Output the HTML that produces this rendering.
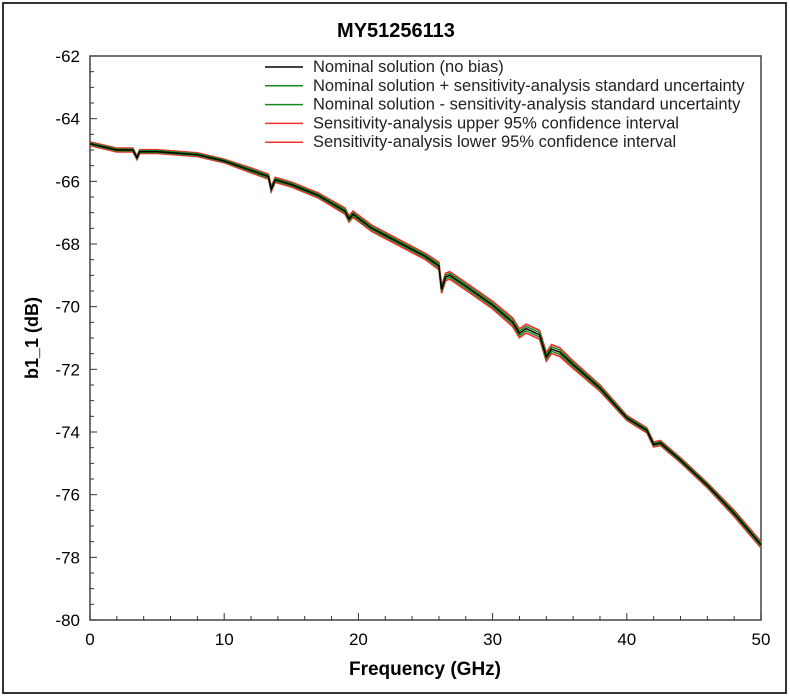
<!DOCTYPE html>
<html><head><meta charset="utf-8"><style>
body{margin:0;background:#fff;}
svg{display:block;font-family:"Liberation Sans",Arial,sans-serif;}
</style></head><body>
<svg id="c" width="790" height="698">
<rect x="3" y="3" width="783" height="690" fill="#fff" stroke="#333" stroke-width="2"/>
<text x="396" y="37" text-anchor="middle" font-size="20" font-weight="bold">MY51256113</text>
<text transform="translate(38,338) rotate(-90)" text-anchor="middle" font-size="18" font-weight="bold">b1_1 (dB)</text>
<text x="425" y="675" text-anchor="middle" font-size="19" font-weight="bold">Frequency (GHz)</text>
<g id="ax"></g>
<g id="series"></g>
<g id="legend"></g>
</svg>
<script>
const freqs=[0,0.5,2,3.2,3.5,3.7,5,8,10,12,13.3,13.5,13.8,15,17,19,19.3,19.6,21,23,25,26,26.2,26.5,26.8,28,30,31.5,32,32.5,33.5,34,34.4,35,36,38,40,41.5,42,42.5,44,46,48,49,50];
const nominal=[-64.8,-64.85,-65.0,-65.0,-65.25,-65.05,-65.05,-65.15,-65.35,-65.65,-65.85,-66.25,-65.95,-66.1,-66.45,-66.95,-67.2,-67.05,-67.5,-67.95,-68.4,-68.7,-69.45,-69.05,-69.0,-69.35,-69.95,-70.5,-70.85,-70.7,-70.9,-71.6,-71.35,-71.45,-71.85,-72.6,-73.55,-73.95,-74.4,-74.35,-74.9,-75.7,-76.6,-77.1,-77.6];
const stdUnc=[0.03,0.03,0.03,0.03,0.03,0.03,0.03,0.03,0.03,0.04,0.04,0.04,0.04,0.04,0.04,0.05,0.05,0.05,0.05,0.05,0.05,0.06,0.06,0.06,0.06,0.06,0.06,0.07,0.07,0.07,0.07,0.07,0.07,0.07,0.06,0.05,0.04,0.04,0.04,0.04,0.04,0.04,0.05,0.05,0.05];
const ci95=stdUnc.map(s=>s*2);
const xTicks=[0,10,20,30,40,50];
const yTicks=[-62,-64,-66,-68,-70,-72,-74,-76,-78,-80];
const legendLabels=["Nominal solution (no bias)","Nominal solution + sensitivity-analysis standard uncertainty","Nominal solution - sensitivity-analysis standard uncertainty","Sensitivity-analysis upper 95% confidence interval","Sensitivity-analysis lower 95% confidence interval"];
const legendColors=["#000","#1a8a1a","#1a8a1a","#f03030","#f03030"];

const L=90,R=761,T=56,B=620,NS="http://www.w3.org/2000/svg";
const xs=v=>L+(v-0)/(50-0)*(R-L);
const ys=v=>T+(-62-v)/18*(B-T);
function mk(t,a,p){const e=document.createElementNS(NS,t);for(const k in a)e.setAttribute(k,a[k]);p.appendChild(e);return e;}
const ax=document.getElementById('ax');
const frame=mk('rect',{x:L,y:T,width:R-L,height:B-T,fill:'none',stroke:'#444','stroke-width':1.5},ax);


for(let v=0;v<=50;v+=2){const major=v%10===0;mk('line',{x1:xs(v),x2:xs(v),y1:B,y2:B-(major?7:4),stroke:'#333'},ax);}
for(let v=-80;v<=-62;v+=0.5){const major=Math.abs(v%2)<1e-9;mk('line',{x1:L,x2:L+(major?7:4),y1:ys(v),y2:ys(v),stroke:'#333'},ax);}
xTicks.forEach(v=>{const t=mk('text',{x:xs(v),y:B+25,'text-anchor':'middle','font-size':17},ax);t.textContent=v;

});
yTicks.forEach(v=>{const t=mk('text',{x:L-10,y:ys(v)+6,'text-anchor':'end','font-size':17},ax);t.textContent=v;

});
const sg=document.getElementById('series');
function path(vals,color,name,w){const d=freqs.map((f,i)=>(i?'L':'M')+xs(f).toFixed(1)+','+ys(vals[i]).toFixed(1)).join('');
const p=mk('path',{d:d,fill:'none',stroke:color,'stroke-width':w},sg);

}
path(nominal.map((v,i)=>v+ci95[i]),'#f03030','series-upper-95ci',1.6);
path(nominal.map((v,i)=>v-ci95[i]),'#f03030','series-lower-95ci',1.6);
path(nominal.map((v,i)=>v+stdUnc[i]),'#1a8a1a','series-plus-std',1.5);
path(nominal.map((v,i)=>v-stdUnc[i]),'#1a8a1a','series-minus-std',1.5);
path(nominal,'#000','series-nominal',1.5);
const lg=document.getElementById('legend');
legendLabels.forEach((lab,i)=>{const y=67+i*18.8;
const g=mk('g',{},lg);


mk('line',{x1:265,x2:303,y1:y,y2:y,stroke:legendColors[i],'stroke-width':1.5},g);
const t=mk('text',{x:313,y:y+5,'font-size':16.5,fill:'#222'},g);t.textContent=lab;});
</script>
</body></html>
